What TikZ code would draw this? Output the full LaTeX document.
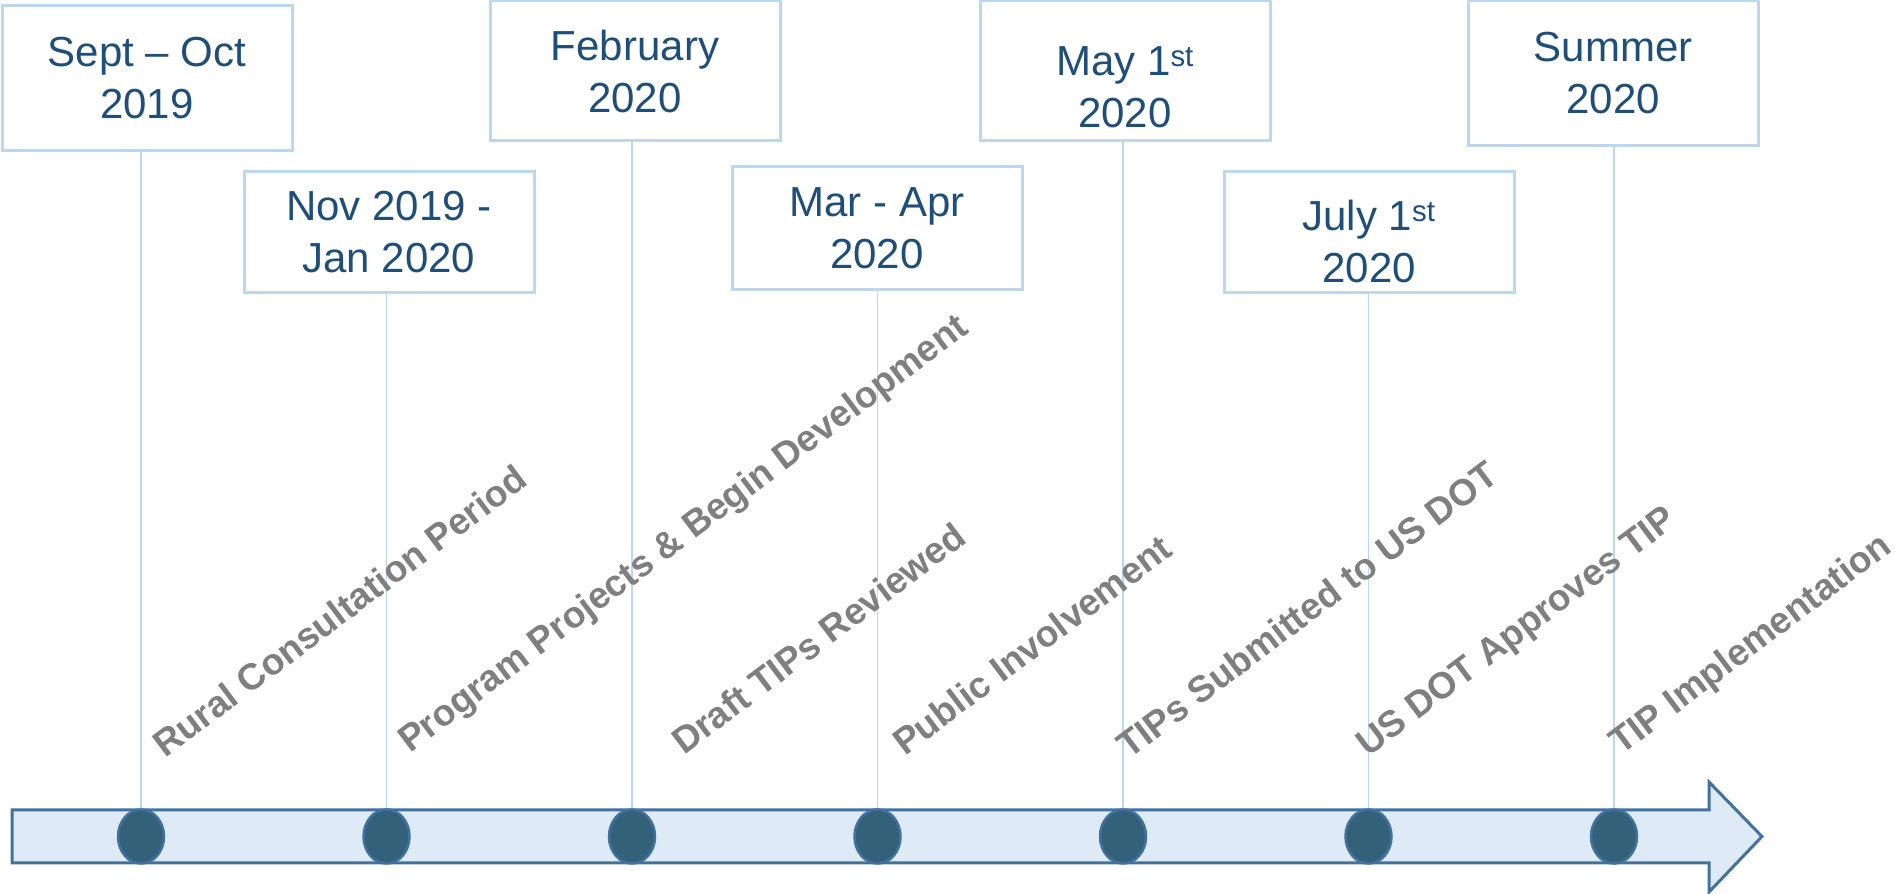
\documentclass[tikz,border=0pt]{standalone}
\usepackage{fontspec}
\setmainfont{Liberation Sans}
\usetikzlibrary{shapes.geometric,positioning}
\definecolor{boxline}{HTML}{BDD7EE}
\definecolor{datetext}{HTML}{1F4E79}
\definecolor{barfill}{HTML}{DEEBF7}
\definecolor{barline}{HTML}{41719C}
\definecolor{dotfill}{HTML}{336179}
\definecolor{steptext}{HTML}{7F7F7F}
\def \tu {1pt}

\begin{document}
\begin{tikzpicture}[x=\tu,y=\tu,node distance=197*\tu,
    datebox/.style={draw=boxline,line width=3*\tu,fill=white,minimum width=290*\tu,
      align=center,text=datetext,font=\fontsize{42}{52}\selectfont},
    dot/.style={ellipse,draw=barline,line width=2.5*\tu,fill=dotfill,inner sep=0pt,
      minimum width=46*\tu,minimum height=54*\tu},
    stem/.style={draw=boxline,line width=1.8*\tu},
    steplabel/.style={rotate=37,anchor=base west,inner sep=0pt,text=steptext,
      font=\bfseries\fontsize{37}{44}\selectfont}]
    \useasboundingbox (0,0) rectangle (1896,894);
    % timeline bar
    \draw[draw=barline,fill=barfill,line width=3*\tu,line join=miter]
      (12,84) -- (1709,84) -- (1709,112) -- (1762,57.5) -- (1709,2) -- (1709,31) -- (12,31) -- cycle;
    % dots on the bar
    \node[dot] (d1) at (141,57.5) {};
    \node[dot,right=of d1] (d2) {};
    \node[dot,right=of d2] (d3) {};
    \node[dot,right=of d3] (d4) {};
    \node[dot,right=of d4] (d5) {};
    \node[dot,right=of d5] (d6) {};
    \node[dot,right=of d6] (d7) {};
    % date boxes
    \node[datebox,minimum height=145*\tu] (sep) at (147,816) {Sept – Oct\\2019};
    \node[datebox,minimum height=121*\tu] (nov) at (389,662) {Nov 2019 -\\Jan 2020};
    \node[datebox,minimum height=140*\tu] (feb) at (635,823) {February\\2020};
    \node[datebox,minimum height=123*\tu] (mar) at (877,666) {Mar - Apr\\2020};
    \node[datebox,minimum height=140*\tu] (may) at (1125,823) {\rule{0pt}{62pt}May 1\textsuperscript{st}\\2020};
    \node[datebox,minimum height=121*\tu] (jul) at (1369,662) {\rule{0pt}{50pt}July 1\textsuperscript{st}\\2020};
    \node[datebox,minimum height=145*\tu] (sum) at (1613,821) {Summer\\2020};
    % stems
    \path[stem] (d1.north) -- (d1.north |- sep.south);
    \path[stem] (d2.north) -- (d2.north |- nov.south);
    \path[stem] (d3.north) -- (d3.north |- feb.south);
    \path[stem] (d4.north) -- (d4.north |- mar.south);
    \path[stem] (d5.north) -- (d5.north |- may.south);
    \path[stem] (d6.north) -- (d6.north |- jul.south);
    \path[stem] (d7.north) -- (d7.north |- sum.south);
    % step labels
    \node[steplabel] (rural) at (165,135) {Rural Consultation Period};
    \node[steplabel] (program) at (410,140) {Program Projects \& Begin Development};
    \node[steplabel] (draft) at (684,138) {Draft TIPs Reviewed};
    \node[steplabel] (public) at (905,137) {Public Involvement};
    \node[steplabel] (submit) at (1129,134) {TIPs Submitted to US DOT};
    \node[steplabel] (approve) at (1368,136) {US DOT Approves TIP};
    \node[steplabel] (implement) at (1621,138) {TIP Implementation};
\end{tikzpicture}
\end{document}
